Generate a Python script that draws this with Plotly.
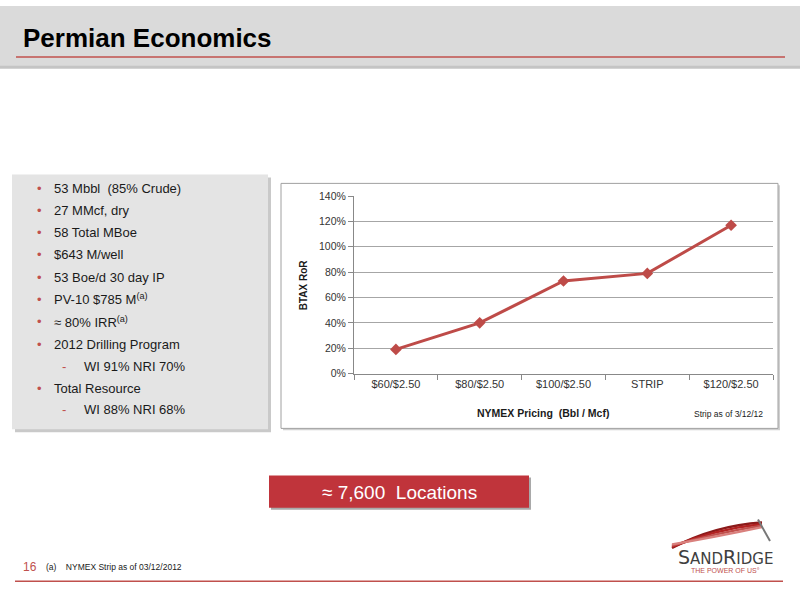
import plotly.graph_objects as go

# ---- data ----
categories = ["$60/$2.50", "$80/$2.50", "$100/$2.50", "STRIP", "$120/$2.50"]
ror_pct = [19, 40, 73, 79, 117]
y_ticks = [0, 20, 40, 60, 80, 100, 120, 140]
y_tick_labels = [f"{v}%" for v in y_ticks]

bullets = [
    ("•", "53 Mbbl  (85% Crude)", 0),
    ("•", "27 MMcf, dry", 0),
    ("•", "58 Total MBoe", 0),
    ("•", "$643 M/well", 0),
    ("•", "53 Boe/d 30 day IP", 0),
    ("•", "PV-10 $785 M<sup>(a)</sup>", 0),
    ("•", "≈ 80% IRR<sup>(a)</sup>", 0),
    ("•", "2012 Drilling Program", 0),
    ("-", "WI 91% NRI 70%", 1),
    ("•", "Total Resource", 0),
    ("-", "WI 88% NRI 68%", 1),
]

W, H = 800, 600
def px(x): return x / W
def py(y): return 1 - y / H

FONT = "Liberation Sans"

fig = go.Figure()
fig.add_trace(go.Scatter(
    x=categories, y=ror_pct, mode="lines+markers",
    line=dict(color="#be4b48", width=3),
    marker=dict(symbol="diamond", size=9, color="#be4b48"),
    hoverinfo="skip", showlegend=False,
))

shapes = []
# header band
shapes.append(dict(type="rect", xref="paper", yref="paper", x0=0, x1=1, y0=py(64), y1=py(60),
                   fillcolor="#c4c4c4", line_width=0, layer="below"))
shapes.append(dict(type="rect", xref="paper", yref="paper", x0=0, x1=1, y0=py(61), y1=1,
                   fillcolor="#dadada", line_width=0, layer="below"))
shapes.append(dict(type="line", xref="paper", yref="paper", x0=px(16), x1=px(785), y0=py(52), y1=py(52),
                   line=dict(color="#c0504d", width=1.5)))
# left panel shadow + panel
shapes.append(dict(type="rect", xref="paper", yref="paper", x0=px(15), x1=px(271), y0=py(435), y1=py(175),
                   fillcolor="#c9c9c9", line_width=0, layer="below"))
shapes.append(dict(type="rect", xref="paper", yref="paper", x0=px(12), x1=px(268), y0=py(432), y1=py(172),
                   fillcolor="#e4e4e4", line_width=0, layer="below"))
# chart box shadow + box
shapes.append(dict(type="rect", xref="paper", yref="paper", x0=px(283), x1=px(780), y0=py(433), y1=py(183),
                   fillcolor="#d0d0d0", line_width=0, layer="below"))
shapes.append(dict(type="rect", xref="paper", yref="paper", x0=px(281), x1=px(778), y0=py(431), y1=py(181),
                   fillcolor="white", line=dict(color="#a0a0a0", width=1), layer="below"))
# red locations box
shapes.append(dict(type="rect", xref="paper", yref="paper", x0=px(271), x1=px(531), y0=py(514), y1=py(481),
                   fillcolor="#a9a9a9", line_width=0, layer="below"))
shapes.append(dict(type="rect", xref="paper", yref="paper", x0=px(269), x1=px(529), y0=py(512), y1=py(479),
                   fillcolor="#c0343b", line_width=0, layer="below"))
# footer line
shapes.append(dict(type="line", xref="paper", yref="paper", x0=px(15), x1=px(783), y0=py(587), y1=py(587),
                   line=dict(color="#c0504d", width=1.5)))
# logo swoosh
for i, (dy, col) in enumerate([(0, "#8b1a1a"), (4, "#b22222"), (8, "#c0504d"), (12, "#d9807d")]):
    shapes.append(dict(type="path", xref="paper", yref="paper",
                       path=f"M {px(672)},{py(553-dy*0.3)} Q {px(715)},{py(530+dy)} {px(762)},{py(527+dy*0.4)}",
                       line=dict(color=col, width=2.4)))
shapes.append(dict(type="path", xref="paper", yref="paper",
                   path=f"M {px(758)},{py(524)} L {px(770)},{py(546)}",
                   line=dict(color="#777777", width=2)))

annotations = []
annotations.append(dict(text="<b>Permian Economics</b>", x=px(21), y=py(33), xref="paper", yref="paper",
                        xanchor="left", yanchor="middle", showarrow=False,
                        font=dict(family=FONT, size=26, color="black")))
row_y = [186, 209, 231, 254, 277, 299, 322, 345, 368, 390, 412]
for (mark, txt, lvl), yy in zip(bullets, row_y):
    mx = 39 if lvl == 0 else 64
    tx = 52 if lvl == 0 else 82
    annotations.append(dict(text=mark, x=px(mx), y=py(yy), xref="paper", yref="paper",
                            xanchor="center", yanchor="middle", showarrow=False,
                            font=dict(family=FONT, size=13, color="#c0504d")))
    annotations.append(dict(text=txt, x=px(tx), y=py(yy), xref="paper", yref="paper",
                            xanchor="left", yanchor="middle", showarrow=False,
                            font=dict(family=FONT, size=13, color="#1a1a1a")))
annotations.append(dict(text="<b>BTAX RoR</b>", x=px(303), y=py(285), xref="paper", yref="paper",
                        textangle=-90, xanchor="center", yanchor="middle", showarrow=False,
                        font=dict(family=FONT, size=10, color="#1a1a1a")))
annotations.append(dict(text="<b>NYMEX Pricing  (Bbl / Mcf)</b>", x=px(543), y=py(415), xref="paper", yref="paper",
                        xanchor="center", yanchor="middle", showarrow=False,
                        font=dict(family=FONT, size=10.5, color="#1a1a1a")))
annotations.append(dict(text="Strip as of 3/12/12", x=px(765), y=py(416), xref="paper", yref="paper",
                        xanchor="right", yanchor="middle", showarrow=False,
                        font=dict(family=FONT, size=8.5, color="#1a1a1a")))
annotations.append(dict(text="≈ 7,600  Locations", x=px(399), y=py(496), xref="paper", yref="paper",
                        xanchor="center", yanchor="middle", showarrow=False,
                        font=dict(family=FONT, size=19, color="white")))
annotations.append(dict(text="16", x=px(21), y=py(572), xref="paper", yref="paper",
                        xanchor="left", yanchor="middle", showarrow=False,
                        font=dict(family=FONT, size=12, color="#c0504d")))
annotations.append(dict(text="(a)    NYMEX Strip as of 03/12/2012", x=px(44), y=py(572), xref="paper", yref="paper",
                        xanchor="left", yanchor="middle", showarrow=False,
                        font=dict(family=FONT, size=8.5, color="#1a1a1a")))
annotations.append(dict(text="S<span style='font-size:15px'>AND</span>R<span style='font-size:15px'>IDGE</span>",
                        x=px(725), y=py(562), xref="paper", yref="paper",
                        xanchor="center", yanchor="middle", showarrow=False,
                        font=dict(family="DejaVu Sans", size=19, color="#404040")))
annotations.append(dict(text="THE POWER OF US\u00b0", x=px(725), y=py(576), xref="paper", yref="paper",
                        xanchor="center", yanchor="middle", showarrow=False,
                        font=dict(family=FONT, size=7, color="#c0504d")))

fig.update_layout(
    width=W, height=H,
    margin=dict(l=0, r=0, t=0, b=0),
    paper_bgcolor="white", plot_bgcolor="white",
    shapes=shapes, annotations=annotations,
    xaxis=dict(domain=[px(354), px(773)], type="category", range=[-0.5, 4.5],
               tickson="boundaries", ticks="outside", ticklen=5, tickcolor="#888888",
               showline=True, linecolor="#888888", linewidth=1, showgrid=False,
               tickfont=dict(family=FONT, size=11, color="#333333"), anchor="y"),
    yaxis=dict(domain=[py(375), py(194)], range=[0, 140], tickvals=y_ticks, ticktext=y_tick_labels,
               ticks="outside", ticklen=5, tickcolor="#888888",
               showline=True, linecolor="#888888", linewidth=1,
               showgrid=True, gridcolor="#a6a6a6", gridwidth=1, zeroline=False,
               tickfont=dict(family=FONT, size=10.5, color="#333333"), anchor="x"),
    showlegend=False,
)

fig.write_html("out.html", config={"displayModeBar": False},
               post_script="document.body.style.margin='0';document.body.style.overflow='hidden';")
